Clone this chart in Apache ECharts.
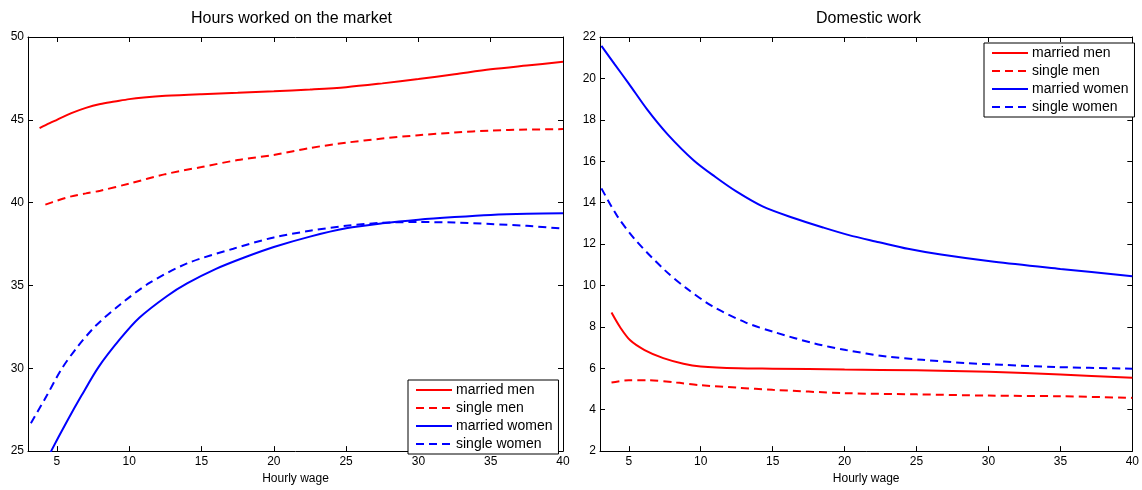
<!DOCTYPE html>
<html>
<head>
<meta charset="utf-8">
<script src="https://cdn.jsdelivr.net/npm/echarts@6/dist/echarts.min.js"></script>
<style>
html,body{margin:0;padding:0;background:#fff;}
#chart{width:1142px;height:490px;}
</style>
</head>
<body>
<div id="chart"></div>
<script>
// ---- Titles / labels ----
const titleLeft = 'Hours worked on the market';
const titleRight = 'Domestic work';
const xName = 'Hourly wage';
const seriesNames = ['married men', 'single men', 'married women', 'single women'];

// ---- Left panel: hours worked on the market ----
const mmHoursWage = [3.8, 4.5, 5, 6, 7, 8, 9, 10, 11, 12.5, 15, 17.5, 20, 22.5, 25, 27.5, 30, 32.5, 35, 37.5, 40];
const mmHours     = [44.5, 44.8, 45.0, 45.4, 45.72, 45.95, 46.1, 46.25, 46.35, 46.45, 46.55, 46.63, 46.72, 46.83, 46.97, 47.2, 47.46, 47.75, 48.05, 48.28, 48.5];

const smHoursWage = [4.2, 5, 6, 7, 8, 10, 12.5, 15, 17.5, 20, 22.5, 25, 27.5, 30, 32.5, 35, 37.5, 40];
const smHours     = [39.88, 40.12, 40.38, 40.56, 40.72, 41.15, 41.72, 42.15, 42.57, 42.88, 43.3, 43.62, 43.87, 44.07, 44.23, 44.35, 44.41, 44.44];

const mwHoursWage = [3.8, 4.6, 5.7, 6.7, 7.9, 9.4, 10.7, 12.6, 14, 16, 18, 20, 22.5, 25, 27.5, 30, 32.5, 35, 37.5, 40];
const mwHours     = [23.6, 25.0, 26.8, 28.35, 30.1, 31.8, 33.05, 34.35, 35.12, 36.0, 36.7, 37.32, 37.95, 38.45, 38.75, 38.97, 39.13, 39.26, 39.33, 39.36];

const swHoursWage = [3.2, 4.3, 5.3, 6.4, 7.7, 9.4, 11.4, 14, 17.2, 20, 22.5, 25, 27.5, 30, 32.5, 35, 37.5, 40];
const swHours     = [26.68, 28.35, 29.93, 31.27, 32.58, 33.87, 35.15, 36.33, 37.22, 37.9, 38.3, 38.6, 38.78, 38.83, 38.8, 38.71, 38.6, 38.43];

// ---- Right panel: domestic work ----
const mmDomWage = [3.8, 4.4, 5.1, 6.1, 7.4, 8.8, 10, 12.6, 15, 20, 25, 30, 35, 40];
const mmDom     = [8.69, 7.98, 7.35, 6.88, 6.49, 6.22, 6.09, 6.0, 5.98, 5.94, 5.9, 5.83, 5.7, 5.54];

const smDomWage = [3.8, 5, 6.3, 8.3, 10, 12.6, 15, 20, 25, 30, 35, 40];
const smDom     = [5.31, 5.42, 5.42, 5.31, 5.18, 5.06, 4.96, 4.8, 4.74, 4.68, 4.65, 4.57];

const mwDomWage = [3.1, 4, 5, 6.3, 7.7, 9.5, 11, 12.5, 14.3, 16.4, 18.5, 20.3, 22.4, 24.4, 26.7, 30.4, 35, 40];
const mwDom     = [21.57, 20.7, 19.75, 18.48, 17.3, 16.05, 15.25, 14.53, 13.82, 13.27, 12.8, 12.43, 12.09, 11.77, 11.49, 11.14, 10.8, 10.45];

const swDomWage = [3.1, 4.2, 5.5, 7.5, 9, 10.8, 13.1, 15.1, 17.9, 20.1, 22.9, 25.4, 28.4, 30.9, 34.7, 40];
const swDom     = [14.69, 13.35, 12.17, 10.74, 9.87, 9.0, 8.22, 7.75, 7.2, 6.88, 6.57, 6.41, 6.25, 6.17, 6.06, 5.98];

// ---- Axis ranges ----
const xMin = 3, xMax = 40;
const yHoursMin = 25, yHoursMax = 50, yHoursStep = 5;
const yDomMin = 2, yDomMax = 22, yDomStep = 2;

const FONT = 'Liberation Sans, Arial, Helvetica, sans-serif';
const RED = '#ff0000', BLUE = '#0000ff';
const DASH = [8, 5];

function pairs(xs, ys) { return xs.map((x, i) => [x, ys[i]]); }

function xAxisFor(grid, pos, withLabels) {
  return {
    type: 'value', gridIndex: grid, position: pos, min: xMin, max: xMax, splitNumber: 8,
    axisLine: { show: true, onZero: false, lineStyle: { color: '#000', width: 1 } },
    axisTick: { show: true, inside: true, length: 5, lineStyle: { color: '#000' } },
    axisLabel: withLabels ? {
      show: true, color: '#000', fontSize: 12, fontFamily: FONT, margin: 5,
      formatter: v => (v % 5 === 0 ? String(v) : '')
    } : { show: false },
    splitLine: { show: false },
    name: withLabels ? xName : '', nameLocation: 'middle', nameGap: 18,
    nameTextStyle: { color: '#000', fontSize: 12, fontFamily: FONT }
  };
}
function yAxisFor(grid, pos, withLabels, mn, mx, step) {
  return {
    type: 'value', gridIndex: grid, position: pos, min: mn, max: mx, interval: step,
    axisLine: { show: true, onZero: false, lineStyle: { color: '#000', width: 1 } },
    axisTick: { show: true, inside: true, length: 5, lineStyle: { color: '#000' } },
    axisLabel: withLabels ? { show: true, color: '#000', fontSize: 12, fontFamily: FONT, margin: 4 } : { show: false },
    splitLine: { show: false }
  };
}
function lineSeries(name, xi, yi, data, color, dashed) {
  return {
    name, type: 'line', xAxisIndex: xi, yAxisIndex: yi, data,
    symbol: 'none', smooth: 0.3, clip: true,
    lineStyle: { color, width: 2, type: dashed ? DASH : 'solid' },
    itemStyle: { color }, emphasis: { disabled: true }, animation: false
  };
}
function legendAt(left, top) {
  return {
    orient: 'vertical', left, top, data: seriesNames,
    backgroundColor: '#fff', borderColor: '#000', borderWidth: 1,
    padding: [3, 6, 3, 7], itemWidth: 36, itemHeight: 14, itemGap: 4,
    itemStyle: { opacity: 0 },
    lineStyle: { width: 2 },
    textStyle: { color: '#000', fontSize: 14, fontFamily: FONT, padding: [0, 0, 0, -1] },
    selectedMode: false
  };
}

const chart = echarts.init(document.getElementById('chart'), null, { renderer: 'canvas' });
chart.setOption({
  animation: false,
  backgroundColor: '#fff',
  title: [
    { text: titleLeft, left: 191, top: 11, padding: 0, textStyle: { color: '#000', fontSize: 16, fontWeight: 'normal', fontFamily: FONT } },
    { text: titleRight, left: 816, top: 11, padding: 0, textStyle: { color: '#000', fontSize: 16, fontWeight: 'normal', fontFamily: FONT } }
  ],
  legend: [legendAt(408, 380), legendAt(984, 43)],
  grid: [
    { left: 28, top: 37, width: 535, height: 423, containLabel: false },
    { left: 600, top: 37, width: 539, height: 423, containLabel: false }
  ],
  xAxis: [
    xAxisFor(0, 'bottom', true), xAxisFor(0, 'top', false),
    xAxisFor(1, 'bottom', true), xAxisFor(1, 'top', false)
  ],
  yAxis: [
    yAxisFor(0, 'left', true, yHoursMin, yHoursMax, yHoursStep), yAxisFor(0, 'right', false, yHoursMin, yHoursMax, yHoursStep),
    yAxisFor(1, 'left', true, yDomMin, yDomMax, yDomStep), yAxisFor(1, 'right', false, yDomMin, yDomMax, yDomStep)
  ],
  series: [
    lineSeries(seriesNames[0], 0, 0, pairs(mmHoursWage, mmHours), RED, false),
    lineSeries(seriesNames[1], 0, 0, pairs(smHoursWage, smHours), RED, true),
    lineSeries(seriesNames[2], 0, 0, pairs(mwHoursWage, mwHours), BLUE, false),
    lineSeries(seriesNames[3], 0, 0, pairs(swHoursWage, swHours), BLUE, true),
    lineSeries(seriesNames[0], 2, 2, pairs(mmDomWage, mmDom), RED, false),
    lineSeries(seriesNames[1], 2, 2, pairs(smDomWage, smDom), RED, true),
    lineSeries(seriesNames[2], 2, 2, pairs(mwDomWage, mwDom), BLUE, false),
    lineSeries(seriesNames[3], 2, 2, pairs(swDomWage, swDom), BLUE, true)
  ]
});
</script>
</body>
</html>
